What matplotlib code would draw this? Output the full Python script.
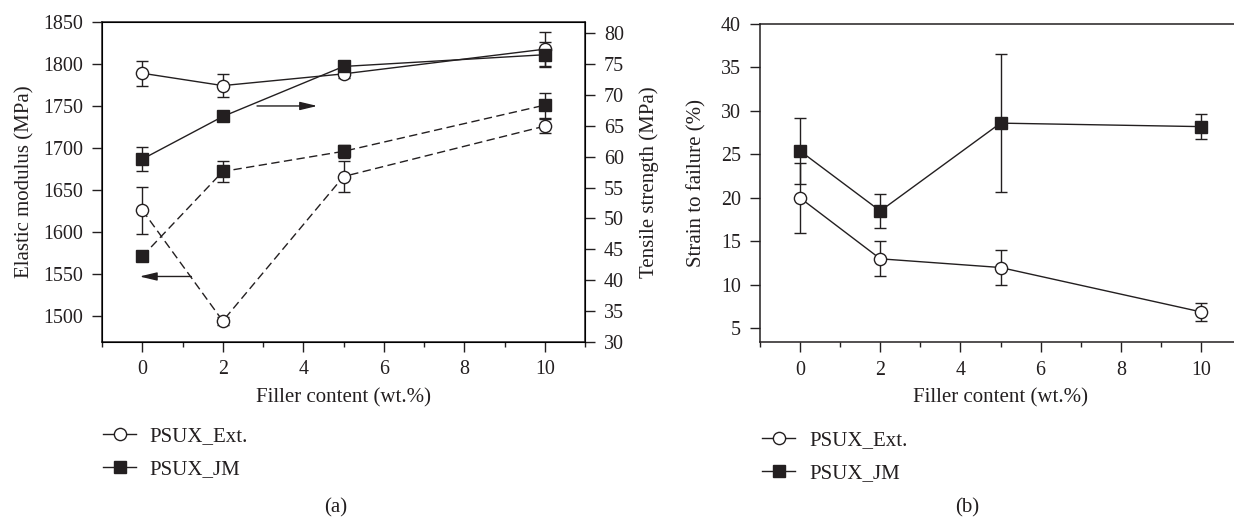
import matplotlib
matplotlib.use('Agg')
import matplotlib.pyplot as plt
from matplotlib.lines import Line2D
from matplotlib.ticker import MultipleLocator

plt.rcParams['font.family'] = ['Liberation Serif', 'DejaVu Serif']
plt.rcParams['font.size'] = 15
plt.rcParams['xtick.labelsize'] = 14.4
plt.rcParams['ytick.labelsize'] = 14.4

ink = '#231f20'

filler = [0, 2, 5, 10]

# (a) elastic modulus, left axis (dashed lines)
modulus_ext = [1626, 1494, 1666, 1726]
modulus_ext_err = [28, 5, 18, 8]
modulus_jm = [1571, 1672, 1696, 1751]
modulus_jm_err = [4, 12, 8, 15]

# (a) tensile strength, right axis (solid lines)
tensile_ext = [73.5, 71.5, 73.4, 77.4]
tensile_ext_err = [2.0, 1.9, 0.6, 2.8]
tensile_jm = [59.6, 66.5, 74.6, 76.5]
tensile_jm_err = [1.9, 0.5, 0.5, 2.0]

# (b) strain to failure
strain_ext = [20.0, 13.0, 12.0, 6.9]
strain_ext_err = [4.0, 2.0, 2.0, 1.0]
strain_jm = [25.4, 18.5, 28.6, 28.2]
strain_jm_err = [3.8, 2.0, 7.9, 1.4]

labels = ['PSUX_Ext.', 'PSUX_JM']

lw = 1.0
common = dict(color=ink, lw=lw, ecolor=ink, elinewidth=lw, capsize=4, capthick=lw, mec=ink, mew=1.0)
ext_style = dict(marker='o', mfc='white', ms=8.8, **common)
jm_style = dict(marker='s', mfc=ink, ms=8.5, **common)
dash = (6, 3.2)


def style_axes(ax):
    ax.set_xlim(-1, 11)
    ax.xaxis.set_major_locator(MultipleLocator(2))
    ax.xaxis.set_minor_locator(MultipleLocator(1))
    ax.tick_params(axis='x', which='major', direction='out', length=7.2, width=1, colors=ink, pad=6)
    ax.tick_params(axis='x', which='minor', direction='out', length=3.6, width=1, colors=ink)
    ax.tick_params(axis='y', which='major', direction='out', length=7.2, width=1, colors=ink, pad=6.5)
    for s in ax.spines.values():
        s.set_linewidth(1.1)
        s.set_color(ink)
    ax.set_xlabel('Filler content (wt.%)', color=ink, va='center')
    ax.xaxis.set_label_coords(0.5, -0.175)


def add_legend(ax, x, y):
    h_ext = Line2D([], [], color=ink, lw=lw, marker='o', mfc='white', mec=ink, ms=8.8)
    h_jm = Line2D([], [], color=ink, lw=lw, marker='s', mfc=ink, mec=ink, ms=8.5)
    leg = ax.legend([h_ext, h_jm], labels, loc='upper left', bbox_to_anchor=(x, y),
                    bbox_transform=fig.transFigure, frameon=False, handlelength=1.6,
                    handletextpad=0.65, labelspacing=0.62, borderpad=0, borderaxespad=0)
    for t in leg.get_texts():
        t.set_color(ink)


fig = plt.figure(figsize=(12.34, 5.17), dpi=100, facecolor='white')

# ---- panel (a)
ax1 = fig.add_axes([0.0827, 0.3385, 0.3914, 0.6190])
ax2 = ax1.twinx()
style_axes(ax1)
ax1.set_ylim(1469, 1850)
ax1.set_yticks(range(1500, 1851, 50))
ax2.set_ylim(30, 81.8)
ax2.set_yticks(range(30, 81, 5))
ax2.tick_params(axis='y', direction='out', length=7.2, width=1, colors=ink, pad=6.5)

ax1.errorbar(filler, modulus_ext, yerr=modulus_ext_err, dashes=dash, **ext_style)
ax1.errorbar(filler, modulus_jm, yerr=modulus_jm_err, dashes=dash, **jm_style)
ax2.errorbar(filler, tensile_ext, yerr=tensile_ext_err, **ext_style)
ax2.errorbar(filler, tensile_jm, yerr=tensile_jm_err, **jm_style)

arrow = dict(arrowstyle='-|>,head_length=1.05,head_width=0.25', color=ink, lw=lw,
             shrinkA=0, shrinkB=0, mutation_scale=10)
ax1.annotate('', xy=(4.35, 1750), xytext=(2.85, 1750), arrowprops=arrow)
ax1.annotate('', xy=(-0.07, 1547), xytext=(1.22, 1547), arrowprops=arrow)

ax1.set_ylabel('Elastic modulus (MPa)', color=ink, va='center')
ax1.yaxis.set_label_coords(-0.159, 0.5)
ax2.set_ylabel('Tensile strength (MPa)', color=ink, va='center')
ax2.yaxis.set_label_coords(1.132, 0.5)
add_legend(ax1, 103 / 1234, 1 - 427 / 517)
fig.text(336 / 1234, 1 - 508 / 517, '(a)', ha='center', va='center', color=ink)

# ---- panel (b)
ax3 = fig.add_axes([0.6159, 0.3379, 0.3898, 0.6157])
style_axes(ax3)
ax3.set_ylim(3.4, 40)
ax3.set_yticks(range(5, 41, 5))
ax3.errorbar(filler, strain_ext, yerr=strain_ext_err, **ext_style)
ax3.errorbar(filler, strain_jm, yerr=strain_jm_err, **jm_style)
ax3.set_ylabel('Strain to failure (%)', color=ink, va='center')
ax3.yaxis.set_label_coords(-0.131, 0.5)
add_legend(ax3, 762 / 1234, 1 - 431 / 517)
fig.text(967 / 1234, 1 - 508 / 517, '(b)', ha='center', va='center', color=ink)

fig.savefig('out.png', dpi=100, facecolor='white')
